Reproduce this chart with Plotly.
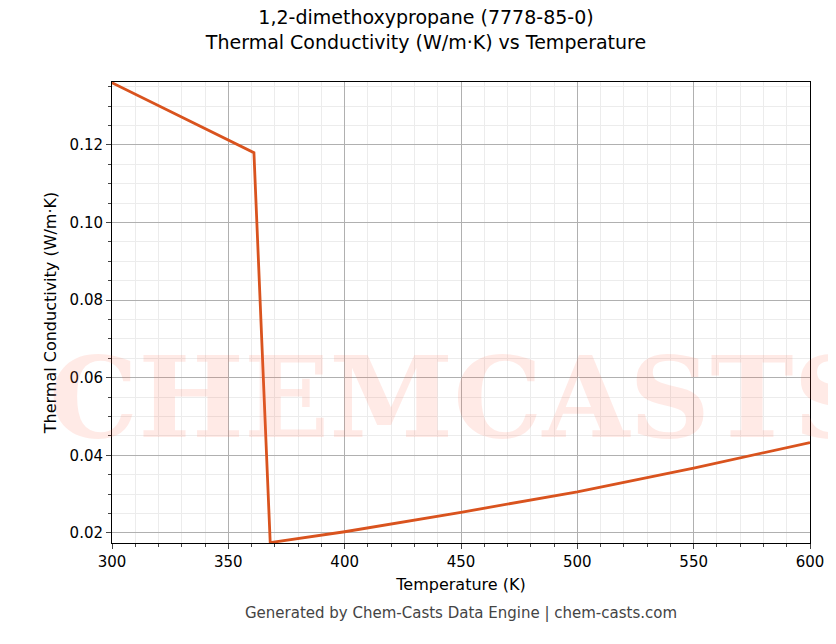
import plotly.graph_objects as go

temps = [300, 361, 368, 400, 450, 500, 550, 600]
tc = [0.136, 0.118, 0.0175, 0.0203, 0.0253, 0.0306, 0.0367, 0.0433]

fig = go.Figure()
fig.add_trace(go.Scatter(x=temps, y=tc, mode="lines", line=dict(color="#d9531e", width=2.8)))
fig.add_annotation(text="<b>CHEMCASTS</b>", x=0.5, y=0.17, xref="paper", yref="paper", showarrow=False,
                   font=dict(size=112, color="rgba(255,90,60,0.13)", family="DejaVu Serif"))
ax = dict(showline=True, linecolor="black", mirror=True, ticks="outside", gridcolor="#b0b0b0",
          minor=dict(showgrid=True, gridcolor="#ececec", ticks="outside", ticklen=3), zeroline=False,
          tickfont=dict(size=15, color="black"), automargin=False)
fig.update_xaxes(range=[300, 600], dtick=50, title=dict(text="Temperature (K)", font=dict(size=16), standoff=8), **ax)
fig.update_yaxes(range=[0.0174, 0.1362], dtick=0.02, tickformat=".2f",
                 title=dict(text="Thermal Conductivity (W/m·K)", font=dict(size=16), standoff=8), **ax)
fig.update_layout(width=836, height=644, plot_bgcolor="white", paper_bgcolor="white", showlegend=False,
                  font=dict(family="DejaVu Sans", color="black"),
                  margin=dict(l=104, r=34, t=74, b=109, autoexpand=False),
                  title=dict(text="1,2-dimethoxypropane (7778-85-0)<br>Thermal Conductivity (W/m·K) vs Temperature",
                             x=0.5, xanchor="center", y=0.975, font=dict(size=19)))
fig.add_annotation(text="Generated by Chem-Casts Data Engine | chem-casts.com", x=0.5, y=-0.175,
                   xref="paper", yref="paper", showarrow=False, font=dict(size=15, color="#444"))
fig.write_html("out.html")
